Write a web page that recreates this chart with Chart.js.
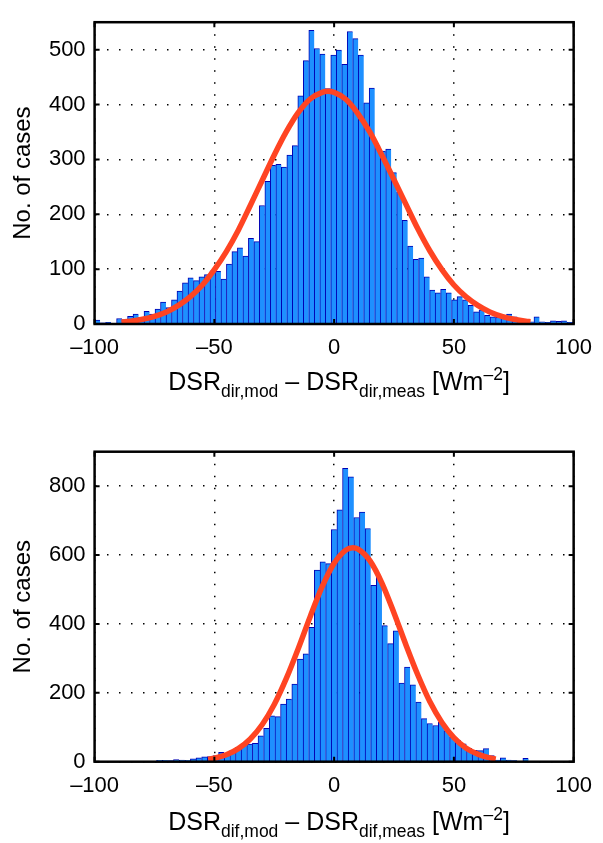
<!DOCTYPE html>
<html>
<head>
<meta charset="utf-8">
<script src="https://cdn.jsdelivr.net/npm/chart.js@4.4.1/dist/chart.umd.min.js"></script>
<style>
html,body{margin:0;padding:0;background:#fff;width:603px;height:843px;overflow:hidden;}
canvas{position:absolute;left:0;}
#c1{top:0;}
#c2{top:421px;}
.xl{position:absolute;left:339px;transform:translateX(-50%);white-space:nowrap;font-family:'Liberation Sans',Arial,sans-serif;font-size:25px;line-height:28px;color:#000;}
.xl .sb{font-size:17.5px;position:relative;top:7px;}
.xl .sp{font-size:17.5px;position:relative;top:-10px;}
</style>
</head>
<body>
<canvas id="c1" width="603" height="421"></canvas>
<canvas id="c2" width="603" height="422"></canvas>
<div class="xl" style="top:367px">DSR<span class="sb">dir,mod</span> – DSR<span class="sb">dir,meas</span> [Wm<span class="sp">–2</span>]</div>
<div class="xl" style="top:807px">DSR<span class="sb">dif,mod</span> – DSR<span class="sb">dif,meas</span> [Wm<span class="sp">–2</span>]</div>
<script>
// ---------- data: top panel (direct) ----------
const topBinCenters = [-98.85,-96.56,-94.27,-91.97,-89.68,-87.39,-85.10,-82.80,-80.51,-78.22,
-75.92,-73.63,-71.34,-69.05,-66.75,-64.46,-62.17,-59.87,-57.58,-55.29,
-53.00,-50.70,-48.41,-46.12,-43.82,-41.53,-39.24,-36.95,-34.65,-32.36,
-30.07,-27.77,-25.48,-23.19,-20.90,-18.60,-16.31,-14.02,-11.72,-9.43,
-7.14,-4.84,-2.55,-0.26,2.04,4.33,6.62,8.91,11.21,13.50,
15.79,18.09,20.38,22.67,24.97,27.26,29.55,31.84,34.14,36.43,
38.72,41.02,43.31,45.60,47.89,50.19,52.48,54.77,57.07,59.36,
61.65,63.94,66.24,68.53,70.82,73.12,75.41,77.70,79.99,82.29,
84.58,86.87,89.17,91.46,93.75,96.04,98.34,100.63];
const topCounts = [7,2,3,1,10,8,14,18,12,23,
18,27,40,30,44,60,75,84,79,86,
90,97,96,82,109,132,139,124,156,150,
216,260,289,291,286,308,325,416,480,535,
502,492,429,490,499,473,533,520,490,403,
430,325,315,319,276,240,189,142,118,120,
86,62,57,63,57,44,50,44,34,22,
26,16,13,12,14,18,13,10,8,4,
13,4,3,6,5,6,3,3];
const topFitX = [-88.8,-85,-80,-75,-70,-65,-60,-55,-50,-45,-40,-35,-30,-25,-20,-15,-10,-5,-2.7,0,5,10,15,20,25,30,35,40,45,50,55,60,65,70,75,80,82];
const topFitY = [3.4,5.1,8.6,14,22,34,50,71,99,132,171,216,262,308,350,385,410,422,424,422,409,383,349,307,263,218,173,133,99,71,50,34,22,14,8.6,5,4.2];

// ---------- data: bottom panel (diffuse) ----------
const botBinCenters = [-98.82,-96.47,-94.12,-91.77,-89.41,-87.06,-84.71,-82.36,-80.00,-77.65,
-75.30,-72.95,-70.59,-68.24,-65.89,-63.54,-61.18,-58.83,-56.48,-54.13,
-51.77,-49.42,-47.07,-44.72,-42.36,-40.01,-37.66,-35.31,-32.95,-30.60,
-28.25,-25.90,-23.54,-21.19,-18.84,-16.49,-14.13,-11.78,-9.43,-7.08,
-4.72,-2.37,-0.02,2.33,4.69,7.04,9.39,11.74,14.10,16.45,
18.80,21.15,23.51,25.86,28.21,30.56,32.92,35.27,37.62,39.97,
42.33,44.68,47.03,49.38,51.74,54.09,56.44,58.79,61.15,63.50,
65.85,68.20,70.56,72.91,75.26,77.61,79.97,82.32,84.67,87.02,
89.38,91.73,94.08,96.43,98.79];
const botCounts = [2,0,1,0,0,2,2,0,0,1,
1,4,4,3,6,5,4,8,11,14,
15,18,27,25,33,42,52,51,53,75,
97,133,131,167,182,225,298,313,390,556,
580,575,674,731,852,827,709,725,677,512,
536,395,343,380,228,275,223,173,125,111,
105,114,90,72,62,52,39,33,32,38,
18,5,11,5,3,2,10,2,1,1,
0,0,0,0,0];
const botFitX = [-52.6,-50,-45,-40,-35,-30,-25,-20,-15,-10,-5,0,5,7.8,10,15,20,25,30,35,40,45,50,55,60,65,67.5];
const botFitY = [7,10,20,38,66,108,166,241,328,421,508,576,615,621,617,583,518,432,339,251,174,114,70,40,22,11,8];

const xTickValues = [-100,-50,0,50,100];
const yLabel = 'No. of cases';

Chart.defaults.font.family = "'Liberation Sans', Arial, sans-serif";
Chart.defaults.color = '#000';

const boxPlugin = {
  id: 'boxTicks',
  afterDraw(chart) {
    const {ctx, chartArea: a} = chart;
    const xs = chart.scales.x, ys = chart.scales.y;
    ctx.save();
    ctx.strokeStyle = '#000';
    ctx.lineWidth = 2;
    ctx.beginPath();
    xs.ticks.forEach(t => {
      const p = xs.getPixelForValue(t.value);
      ctx.moveTo(p, a.bottom); ctx.lineTo(p, a.bottom - 5);
      ctx.moveTo(p, a.top); ctx.lineTo(p, a.top + 5);
    });
    ys.ticks.forEach(t => {
      const p = ys.getPixelForValue(t.value);
      ctx.moveTo(a.left, p); ctx.lineTo(a.left + 5, p);
      ctx.moveTo(a.right, p); ctx.lineTo(a.right - 5, p);
    });
    ctx.stroke();
    ctx.lineWidth = 2.5;
    ctx.strokeRect(a.left, a.top, a.right - a.left, a.bottom - a.top);
    ctx.restore();
  }
};

function fmt(v) { return v < 0 ? '\u2013' + Math.abs(v) : String(v); }

function buildChart(id, centers, counts, fitX, fitY, yMax, yStep, padTop, xH) {
  const barData = centers.map((x, i) => ({x: x, y: counts[i]}));
  const lineData = fitX.map((x, i) => ({x: x, y: fitY[i]}));
  const gridCommon = {color: '#000', lineWidth: 1.5, drawTicks: false, offset: false};
  return new Chart(document.getElementById(id), {
    type: 'bar',
    data: {
      datasets: [
        {type: 'line', data: lineData, borderColor: '#FF4422', borderWidth: 5.5, pointRadius: 0,
         fill: false, cubicInterpolationMode: 'monotone', order: 0, borderCapStyle: 'butt'},
        {type: 'bar', data: barData, backgroundColor: '#1E90FF', borderColor: '#0000B4',
         borderWidth: {top: 1, left: 1, right: 0, bottom: 0}, barPercentage: 1, categoryPercentage: 1, order: 1}
      ]
    },
    options: {
      responsive: false,
      animation: false,
      events: [],
      layout: {padding: {top: padTop, right: 21.3, left: 0, bottom: 0}},
      plugins: {legend: {display: false}, tooltip: {enabled: false}},
      scales: {
        x: {
          type: 'linear', min: -100, max: 100, offset: false,
          afterFit: s => { s.height = xH; },
          afterBuildTicks: s => { s.ticks = xTickValues.map(v => ({value: v})); },
          ticks: {stepSize: 50, padding: 11, font: {size: 22}, color: '#000', maxRotation: 0, autoSkip: false, callback: v => fmt(v)},
          grid: gridCommon,
          border: {display: false, dash: [1.5, 10.5]}
        },
        y: {
          min: 0, max: yMax,
          afterFit: s => { s.width = 94.6; },
          afterBuildTicks: s => { s.ticks = s.ticks.filter(t => t.value % yStep === 0 && t.value <= yMax); },
          ticks: {stepSize: yStep, padding: 9, font: {size: 22}, color: '#000'},
          grid: gridCommon,
          border: {display: false, dash: [1.5, 10.5]},
          title: {display: true, text: yLabel, font: {size: 24}, color: '#000', padding: {top: 9, bottom: 0}}
        }
      }
    },
    plugins: [boxPlugin]
  });
}

buildChart('c1', topBinCenters, topCounts, topFitX, topFitY, 550, 100, 14, 97);
buildChart('c2', botBinCenters, botCounts, botFitX, botFitY, 900, 200, 30.7, 81.3);
</script>
</body>
</html>
